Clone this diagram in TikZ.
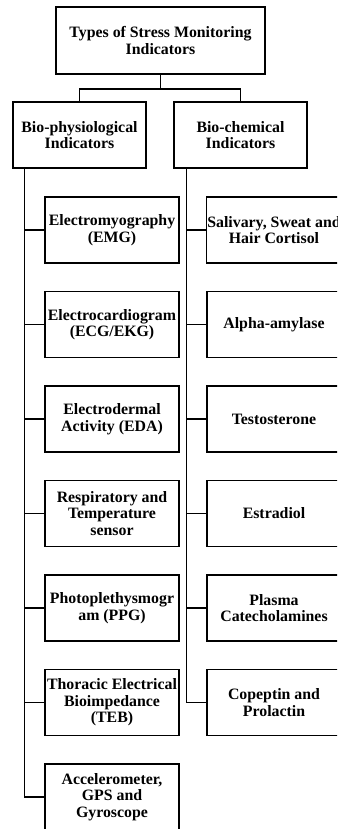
\documentclass[tikz,border=0pt]{standalone}
\usepackage{fontspec}
\setmainfont{Liberation Serif}
\begin{document}
\begin{tikzpicture}[x=1bp,y=-1bp,
  box/.style={draw=black, line width=1.2bp, align=center, inner sep=1bp,
    minimum width=134bp, minimum height=66bp,
    font=\fontsize{15.9}{16.6}\selectfont\bfseries},
  link/.style={draw=black, line width=1.3bp}]
\useasboundingbox (0,0) rectangle (337,829);
\clip (0,0) rectangle (337,829);
\fill[white] (0,0) rectangle (337,829);

% root and the two families
\node[box, minimum width=209bp, minimum height=67bp] (root) at (160.5,40.5)
  {Types of Stress Monitoring\\Indicators};
\node[box, minimum width=133bp] (phys) at (79.5,135) {Bio-physiological\\Indicators};
\node[box, minimum width=133bp] (chem) at (240.5,135) {Bio-chemical\\Indicators};

\coordinate (split) at (160.5,89);
\draw[link] (root.south) -- (split);
\draw[link] (phys.north) |- (split);
\draw[link] (chem.north) |- (split);

% bio-physiological indicators
\node[box] (p1) at (112,230)   {Electromyography\\(EMG)};
\node[box] (p2) at (112,324.5) {Electrocardiogram\\(ECG/EKG)};
\node[box] (p3) at (112,419)   {Electrodermal\\Activity (EDA)};
\node[box] (p4) at (112,513.5) {Respiratory and\\Temperature\\sensor};
\node[box] (p5) at (112,608)   {Photoplethysmogr\\am (PPG)};
\node[box] (p6) at (112,702.5) {Thoracic Electrical\\Bioimpedance\\(TEB)};
\node[box] (p7) at (112,797)   {Accelerometer,\\GPS and\\Gyroscope};

% bio-chemical indicators
\node[box] (c1) at (274,230)   {Salivary, Sweat and\\Hair Cortisol};
\node[box] (c2) at (274,324.5) {Alpha-amylase};
\node[box] (c3) at (274,419)   {Testosterone};
\node[box] (c4) at (274,513.5) {Estradiol};
\node[box] (c5) at (274,608)   {Plasma\\Catecholamines};
\node[box] (c6) at (274,702.5) {Copeptin and\\Prolactin};

% trunks with stubs to each child
\coordinate (ptrunk) at ([xshift=12bp]phys.south west);
\coordinate (ctrunk) at ([xshift=13bp]chem.south west);
\foreach \n in {p1,p2,p3,p4,p5,p6,p7}
  \draw[link] (ptrunk) |- (\n.west);
\foreach \n in {c1,c2,c3,c4,c5,c6}
  \draw[link] (ctrunk) |- (\n.west);
\end{tikzpicture}
\end{document}
